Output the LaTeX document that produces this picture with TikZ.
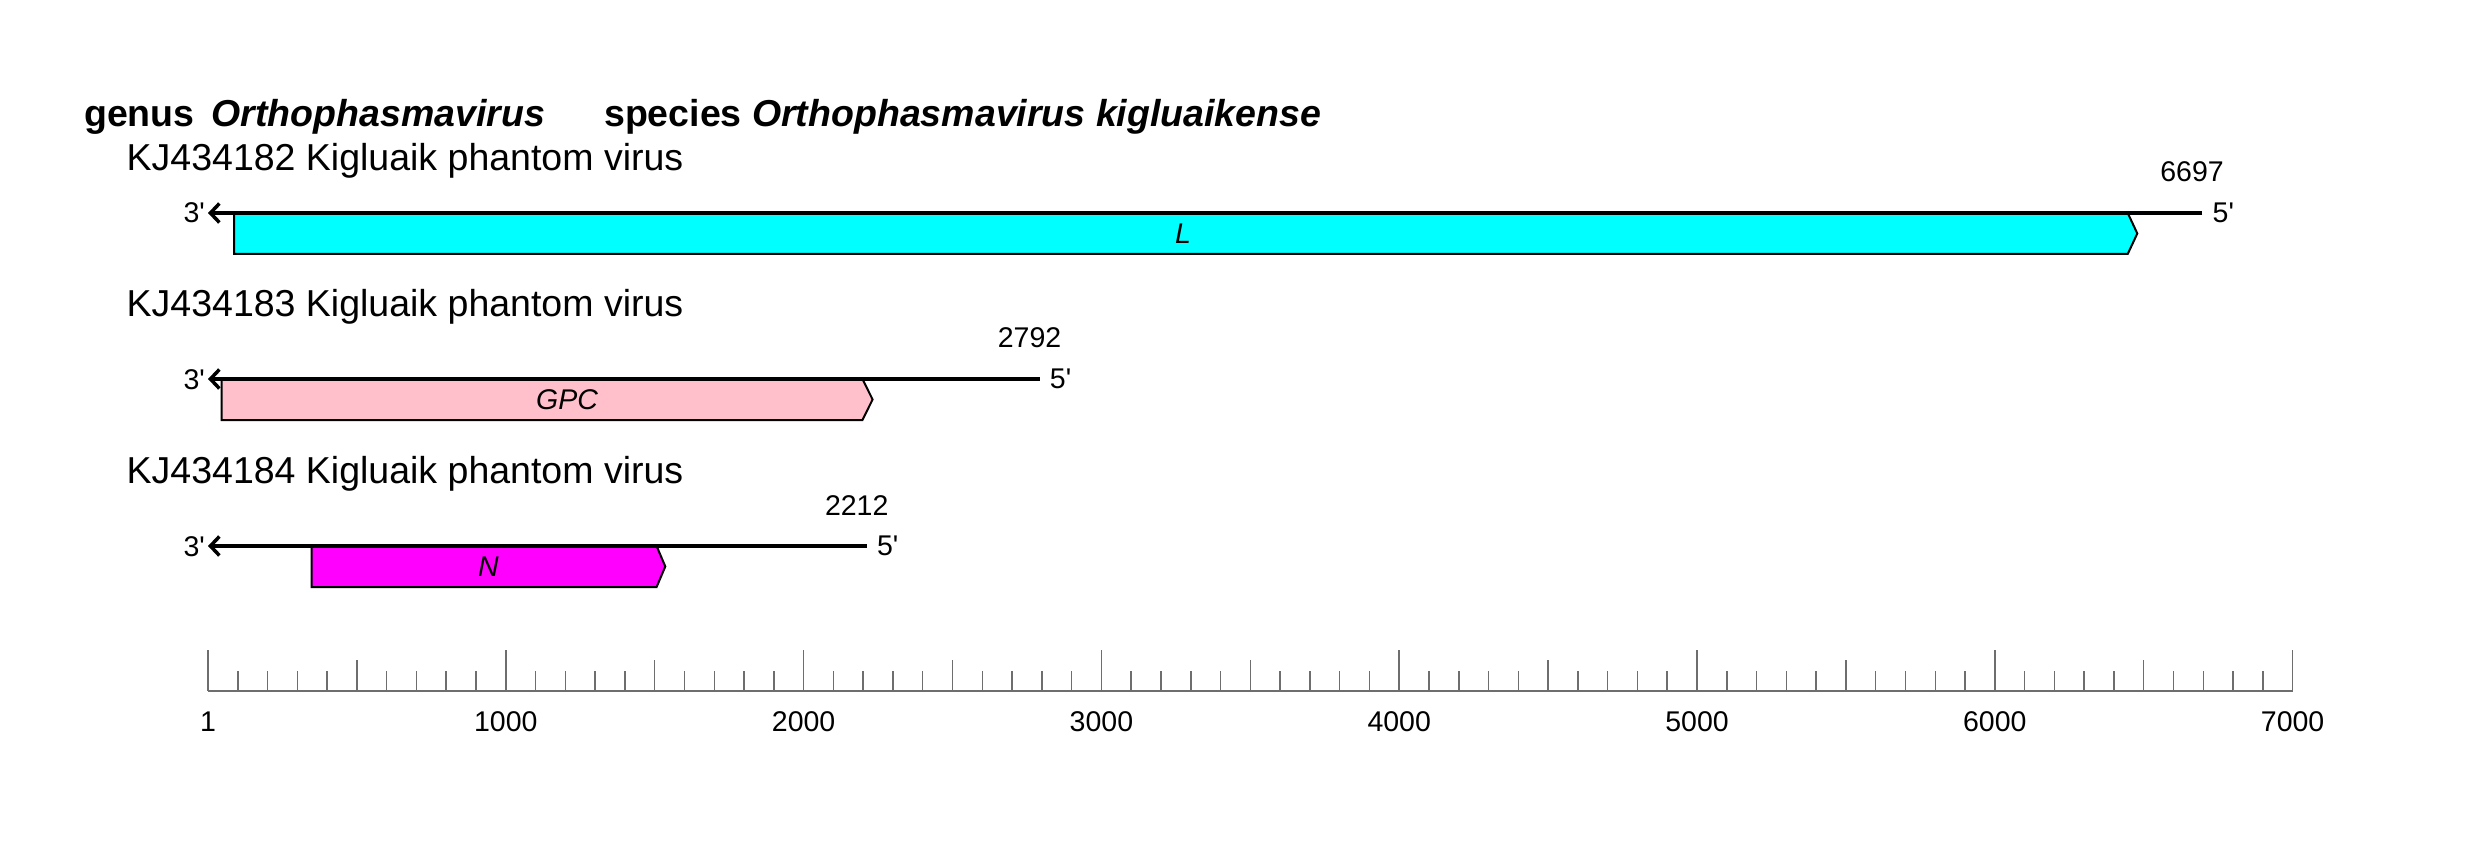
\documentclass[tikz,border=0pt]{standalone}
\usepackage{fontspec}
\setmainfont{Liberation Sans}
\newfontfamily\plainfont{Liberation Sans}
\usetikzlibrary{arrows.meta}
\definecolor{cyanfill}{RGB}{0,255,255}
\definecolor{pinkfill}{RGB}{255,192,203}
\definecolor{magfill}{RGB}{255,0,255}
\definecolor{tickgray}{RGB}{110,110,110}
\tikzset{
  big/.style={font=\fontsize{37.5}{45}\selectfont, inner sep=0pt},
  small/.style={font=\fontsize{28.5}{34}\selectfont\plainfont, inner sep=0pt},
  genome/.style={line width=3.5pt, -{Straight Barb[length=9pt,width=19pt]}},
  gene/.style={draw=black, line width=2pt, line join=miter},
  tick/.style={draw=tickgray, line width=1.5pt},
}
\begin{document}
\begin{tikzpicture}[x=1pt,y=-1pt]
\useasboundingbox (0,0) rectangle (2483,866);
% title
\node[big, anchor=base west, font=\fontsize{37.5}{45}\selectfont\bfseries] (genus) at (84,127) {genus\hspace{17pt}\textit{Orthophasmavirus}};
\node[big, anchor=base west, font=\fontsize{37.5}{45}\selectfont\bfseries] (species) at (604,127) {species \textit{Orthophasmavirus kigluaikense}};
% genome 1
\node[big, anchor=base west] (lab1) at (126.5,171) {KJ434182 Kigluaik phantom virus};
\coordinate (s1) at (208,213);
\coordinate (e1) at (2202.3,213);
\fill[cyanfill] (234,213) -- (2127.7,213) -- (2137.3,233.5) -- (2127.7,254) -- (234,254) -- cycle;
\draw[gene] (234,213) -- (2127.7,213) -- (2137.3,233.5) -- (2127.7,254) -- (234,254) -- cycle;
\node[small, font=\fontsize{28.5}{34}\selectfont\plainfont\itshape] (g1) at (1183,233.5) {L};
\draw[genome] (e1) -- (s1);
\node[small, anchor=base east] (t1) at (205,223) {3'};
\node[small, anchor=base west] (f1) at (2212.5,222.5) {5'};
\node[small, anchor=base] (n1) at (2192,182) {6697};
% genome 2
\node[big, anchor=base west] (lab2) at (126.5,316.7) {KJ434183 Kigluaik phantom virus};
\coordinate (s2) at (208,379);
\coordinate (e2) at (1039.5,379);
\fill[pinkfill] (221.5,379) -- (862.4,379) -- (872.6,399.5) -- (862.4,420) -- (221.5,420) -- cycle;
\draw[gene] (221.5,379) -- (862.4,379) -- (872.6,399.5) -- (862.4,420) -- (221.5,420) -- cycle;
\node[small, font=\fontsize{28.5}{34}\selectfont\plainfont\itshape] (g2) at (567,399.5) {GPC};
\draw[genome] (e2) -- (s2);
\node[small, anchor=base east] (t2) at (205,389) {3'};
\node[small, anchor=base west] (f2) at (1049.7,388.5) {5'};
\node[small, anchor=base] (n2) at (1029.5,348) {2792};
% genome 3
\node[big, anchor=base west] (lab3) at (126.5,483.3) {KJ434184 Kigluaik phantom virus};
\coordinate (s3) at (208,546);
\coordinate (e3) at (866.7,546);
\fill[magfill] (311.7,546) -- (656.6,546) -- (665.3,566.5) -- (656.6,587) -- (311.7,587) -- cycle;
\draw[gene] (311.7,546) -- (656.6,546) -- (665.3,566.5) -- (656.6,587) -- (311.7,587) -- cycle;
\node[small, font=\fontsize{28.5}{34}\selectfont\plainfont\itshape] (g3) at (488.5,566.5) {N};
\draw[genome] (e3) -- (s3);
\node[small, anchor=base east] (t3) at (205,556) {3'};
\node[small, anchor=base west] (f3) at (876.9,555.5) {5'};
\node[small, anchor=base] (n3) at (856.7,515) {2212};
% scale
\coordinate (a0) at (208,691);
\coordinate (a1) at (2292.6,691);
\draw[tick] (a0) -- (a1);
\foreach \i in {0,...,70} {
  \pgfmathsetmacro{\h}{mod(\i,10)==0 ? 41 : (mod(\i,5)==0 ? 31 : 20)}
  \draw[tick] ({208+\i*29.78},691) -- ({208+\i*29.78},{691-\h});
}
\node[small, anchor=base] (l0) at (208,731) {1};
\foreach \k in {1,...,7} {
  \node[small, anchor=base] (l\k) at ({208+\k*297.8},731) {\k000};
}
\end{tikzpicture}
\end{document}
